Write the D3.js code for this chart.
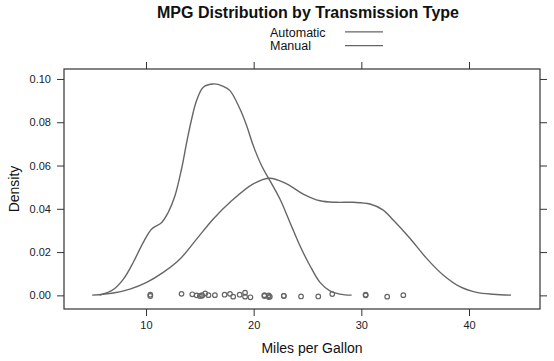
<!DOCTYPE html>
<html>
<head>
<meta charset="utf-8">
<script src="https://cdn.jsdelivr.net/npm/d3@7"></script>
<style>
  html, body { margin: 0; padding: 0; background: #ffffff; }
  svg { display: block; font-family: "Liberation Sans", Arial, Helvetica, sans-serif; }
</style>
</head>
<body>
<svg id="chart" width="554" height="361"></svg>
<script>
// ---- data ----
const title = "MPG Distribution by Transmission Type";
const xLabel = "Miles per Gallon";
const yLabel = "Density";
const groups = ["Automatic", "Manual"];

const xTicks = [10, 20, 30, 40];
const yTicks = [0.00, 0.02, 0.04, 0.06, 0.08, 0.10];
const xDomain = [2.384, 46.594];
const yDomain = [-0.0063, 0.1046];

// density curve of each group: [mpg, density]
const automaticCurve = [
  [5.7, 0.0001], [6.97, 0.0027], [7.9, 0.0075], [8.82, 0.0153], [9.75, 0.0245],
  [10.53, 0.0307], [11.46, 0.0337], [12.07, 0.0384], [12.69, 0.046], [13.3, 0.0584],
  [13.78, 0.0707], [14.24, 0.0815], [14.7, 0.09], [15.32, 0.0962], [16.25, 0.0977],
  [17.18, 0.0966], [17.8, 0.0946], [18.73, 0.0861], [19.35, 0.0784], [19.96, 0.0692],
  [20.74, 0.0599], [21.51, 0.053], [22.44, 0.0445], [23.37, 0.0337], [24.3, 0.0229],
  [25.23, 0.0137], [26.16, 0.006], [27.08, 0.0021], [28.0, 0.0006], [29.1, 0.0001]
];
const manualCurve = [
  [5.0, 0.0001], [6.97, 0.0011], [8.51, 0.0029], [10.06, 0.006], [11.6, 0.0106],
  [13.16, 0.0168], [14.7, 0.026], [16.25, 0.0353], [17.8, 0.043], [19.96, 0.0515],
  [21.51, 0.0541], [23.06, 0.0515], [24.6, 0.0468], [26.16, 0.0437], [27.7, 0.043],
  [29.25, 0.043], [30.8, 0.0422], [32.0, 0.0395], [32.96, 0.0348], [34.51, 0.0264],
  [36.06, 0.0171], [37.6, 0.0094], [39.15, 0.004], [40.7, 0.0014], [42.25, 0.0005],
  [43.9, 0.0001]
];

// observed mpg values and the small vertical jitter of each point
const automaticMpg = [10.4, 10.4, 13.3, 14.3, 14.7, 15.2, 15.2, 15.5, 16.4, 17.3, 17.8, 18.1, 18.7, 19.2, 19.2, 21.4, 21.5, 22.8, 24.4];
const automaticJitter = [0.0003, -0.0003, 0.0007, 0.0005, 0.0, -0.0002, 0.0001, 0.0009, 0.0001, 0.0003, 0.0007, -0.0006, 0.0003, 0.0012, -0.0006, 0.0, -0.0006, -0.0002, -0.0005];
const manualMpg = [15.0, 15.8, 19.7, 21.0, 21.0, 21.4, 22.8, 26.0, 27.3, 30.4, 30.4, 32.4, 33.9];
const manualJitter = [-0.0003, 0.0001, -0.0009, 0.0001, -0.0003, -0.0008, -0.0003, -0.0005, 0.0006, 0.0003, 0.0, -0.0006, 0.0001];

// ---- drawing ----
const svg = d3.select("#chart");
const pLeft = 64, pRight = 540, pTop = 69, pBottom = 309;
const ink = "#333333";
const grey = "#666666";

const x = d3.scaleLinear().domain(xDomain).range([pLeft, pRight]);
const y = d3.scaleLinear().domain(yDomain).range([pBottom, pTop]);

// title
svg.append("text")
  .attr("x", 308).attr("y", 18)
  .attr("text-anchor", "middle")
  .attr("font-size", 16).attr("font-weight", "bold")
  .attr("fill", "#111")
  .text(title);

// legend
const legend = svg.append("g");
groups.forEach((g, i) => {
  const yy = 36.6 + i * 13.8;
  legend.append("text")
    .attr("x", 270).attr("y", yy)
    .attr("font-size", 12.5).attr("fill", "#111")
    .text(g);
  legend.append("line")
    .attr("x1", 345).attr("x2", 383)
    .attr("y1", yy - 4.8).attr("y2", yy - 4.8)
    .attr("stroke", grey).attr("stroke-width", 1.3);
});

// axes
const tickLen = 7;
const axB = svg.append("g").attr("transform", `translate(0,${pBottom})`)
  .call(d3.axisBottom(x).tickValues(xTicks).tickSize(tickLen).tickPadding(5).tickFormat(d3.format("d")));
const axT = svg.append("g").attr("transform", `translate(0,${pTop})`)
  .call(d3.axisTop(x).tickValues(xTicks).tickSize(tickLen).tickFormat(""));
const axL = svg.append("g").attr("transform", `translate(${pLeft},0)`)
  .call(d3.axisLeft(y).tickValues(yTicks).tickSize(tickLen).tickPadding(6).tickFormat(d3.format(".2f")));
const axR = svg.append("g").attr("transform", `translate(${pRight},0)`)
  .call(d3.axisRight(y).tickValues(yTicks).tickSize(tickLen).tickFormat(""));

[axB, axT, axL, axR].forEach(a => {
  a.select(".domain").remove();
  a.selectAll(".tick line").attr("stroke", ink).attr("stroke-width", 1);
  a.selectAll(".tick text").attr("font-size", 11).attr("fill", "#222")
    .attr("font-family", "'Liberation Sans', Arial, Helvetica, sans-serif");
});

// panel box
svg.append("rect")
  .attr("x", pLeft).attr("y", pTop)
  .attr("width", pRight - pLeft).attr("height", pBottom - pTop)
  .attr("fill", "none").attr("stroke", ink).attr("stroke-width", 1.2);

// axis titles
svg.append("text")
  .attr("x", 312).attr("y", 353)
  .attr("text-anchor", "middle").attr("font-size", 14).attr("fill", "#111")
  .text(xLabel);
svg.append("text")
  .attr("transform", `translate(19,${(pTop + pBottom) / 2}) rotate(-90)`)
  .attr("text-anchor", "middle").attr("font-size", 14).attr("fill", "#111")
  .text(yLabel);

// curves
const line = d3.line()
  .x(d => x(d[0])).y(d => y(d[1]))
  .curve(d3.curveCatmullRom.alpha(0.5));
[automaticCurve, manualCurve].forEach(c => {
  svg.append("path").datum(c)
    .attr("d", line)
    .attr("fill", "none").attr("stroke", grey).attr("stroke-width", 1.4);
});

// jittered points
const pts = automaticMpg.map((v, i) => [v, automaticJitter[i]])
  .concat(manualMpg.map((v, i) => [v, manualJitter[i]]));
svg.append("g").selectAll("circle").data(pts).join("circle")
  .attr("cx", d => x(d[0])).attr("cy", d => y(d[1]))
  .attr("r", 2.3)
  .attr("fill", "none").attr("stroke", grey).attr("stroke-width", 1.2);
</script>
</body>
</html>
